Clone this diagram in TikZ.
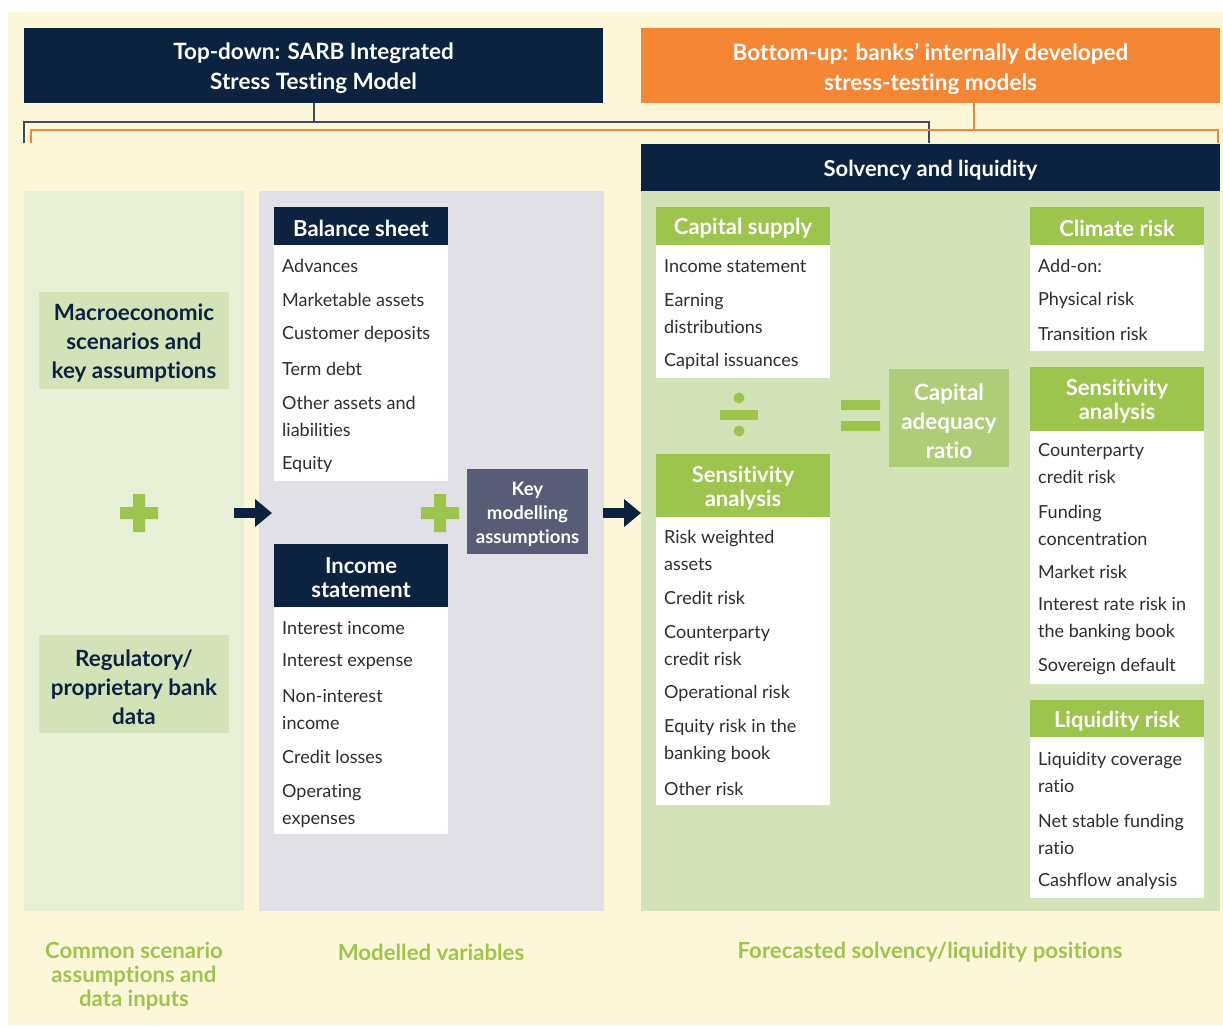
\documentclass[tikz,border=0pt]{standalone}
\usepackage{fontspec}
\setmainfont{Lato}[Ligatures=NoCommon]
\usetikzlibrary{arrows.meta}
\definecolor{cream}{HTML}{FDF7DA}
\definecolor{navy}{HTML}{0B2341}
\definecolor{orng}{HTML}{F58634}
\definecolor{leftp}{HTML}{E7EFD7}
\definecolor{midp}{HTML}{E1E0E6}
\definecolor{rightp}{HTML}{D3E3B7}
\definecolor{gbar}{HTML}{9DC54D}
\definecolor{carbox}{HTML}{AFCD78}
\definecolor{slate}{HTML}{585C74}
\definecolor{conn}{HTML}{3C4A5C}
\definecolor{itemtxt}{HTML}{2E2E2E}
\tikzset{
  x=1pt,y=-1pt,
  box/.style={inner sep=0pt,outer sep=0pt,anchor=north west},
  headtxt/.style={text=white,font=\bfseries\fontsize{22.5}{30}\selectfont,align=center,yshift=-3pt},
  soltxtst/.style={text=white,font=\bfseries\fontsize{22}{30}\selectfont,align=center,yshift=-3pt},
  subhead/.style={text=white,font=\bfseries\fontsize{22}{24}\selectfont,align=center,yshift=-2.5pt},
  item/.style={anchor=west,inner sep=0pt,text=itemtxt,font=\fontsize{18}{27}\selectfont,align=left,yshift=-1pt},
  macro/.style={text=navy,font=\bfseries\fontsize{22.4}{29}\selectfont,align=center,yshift=-3pt},
  foot/.style={text=gbar,font=\bfseries\fontsize{22.2}{24}\selectfont,align=center,yshift=-2.5pt},
  bigarrow/.style={draw=navy,line width=10pt,-{Triangle[length=17pt,width=27pt]}},
  connline/.style={draw=conn,line width=1.4pt},
  orline/.style={draw=orng,line width=1.4pt},
}
\begin{document}
\begin{tikzpicture}
\useasboundingbox (0,0) rectangle (1223,1026);
\fill[white] (0,0) rectangle (1223,1026);
\fill[cream] (8,12) rectangle (1223,1025);
% top boxes
\node[box,fill=navy,minimum width=579pt,minimum height=75pt] (top) at (24,28) {};
\node[headtxt] (toptxt) at (top.center) {Top-down: SARB Integrated\\Stress Testing Model};
\node[box,fill=orng,minimum width=579pt,minimum height=75pt] (bot) at (641,28) {};
\node[headtxt] (bottxt) at (bot.center) {Bottom-up: banks’ internally developed\\stress-testing models};
% connectors
\coordinate (c1) at (314,122);
\coordinate (cl) at (24,122);
\coordinate (cr) at (929,122);
\coordinate (cle) at (24,143);
\coordinate (cre) at (929,143);
\draw[connline] (top.south -| c1) -- (c1);
\draw[connline] (cle) -- (cl) -- (cr) -- (cre);
\coordinate (o1) at (974,130);
\coordinate (ol) at (31,130);
\coordinate (or) at (1218,130);
\coordinate (ole) at (31,143);
\coordinate (ore) at (1218,143);
\draw[orline] (bot.south -| o1) -- (o1);
\draw[orline] (ole) -- (ol) -- (or) -- (ore);
% panels
\node[box,fill=leftp,minimum width=220pt,minimum height=720pt] (lp) at (24,191) {};
\node[box,fill=midp,minimum width=345pt,minimum height=720pt] (mp) at (259,191) {};
\node[box,fill=navy,minimum width=579pt,minimum height=47pt] (sol) at (641,144) {};
\node[soltxtst] (soltxt) at (sol.center) {Solvency and liquidity};
\node[box,fill=rightp,minimum width=579pt,minimum height=720pt] (rp) at (641,191) {};
% left column
\node[box,fill=rightp,minimum width=190pt,minimum height=97pt] (macro) at (39,292) {};
\node[macro] (macrotxt) at (macro.center) {Macroeconomic\\scenarios and\\key assumptions};
\node[box,fill=rightp,minimum width=190pt,minimum height=98pt] (reg) at (39,635) {};
\node[macro] (regtxt) at (reg.center) {Regulatory/\\proprietary bank\\data};
\fill[gbar] (120,507) rectangle (158,519) (133,494) rectangle (145,532);
% arrows
\coordinate (a1s) at (234,513); \coordinate (a1e) at (272,513);
\draw[bigarrow] (a1s) -- (a1e);
\coordinate (a2s) at (603,513); \coordinate (a2e) at (641,513);
\draw[bigarrow] (a2s) -- (a2e);
% middle column
\node[box,fill=navy,minimum width=174pt,minimum height=38pt] (bsh) at (274,207) {};
\node[subhead] (bshtxt) at (bsh.center) {Balance sheet};
\node[box,fill=white,minimum width=174pt,minimum height=236pt] (bsl) at (274,245) {};
\foreach \t/\y [count=\i] in {Advances/265,Marketable assets/299,Customer deposits/333,Term debt/368,{Other assets and\\liabilities}/415.5,Equity/463}
  \node[item] (bs\i) at (282,\y) {\t};
\node[box,fill=navy,minimum width=174pt,minimum height=63pt] (ish) at (274,544) {};
\node[subhead] (ishtxt) at (ish.center) {Income\\statement};
\node[box,fill=white,minimum width=174pt,minimum height=227pt] (isl) at (274,607) {};
\foreach \t/\y [count=\i] in {Interest income/627,Interest expense/661,{Non-interest\\income}/708.5,Credit losses/756,{Operating\\expenses}/804.5}
  \node[item] (is\i) at (282,\y) {\t};
\fill[gbar] (421,507) rectangle (459,519) (434,494) rectangle (446,532);
\node[box,fill=slate,minimum width=121pt,minimum height=85pt] (key) at (467,469) {};
\node[text=white,font=\bfseries\fontsize{18.6}{24}\selectfont,align=center,yshift=-2.5pt] (keytxt) at (key.center) {Key\\modelling\\assumptions};
% right: capital supply
\node[box,fill=gbar,minimum width=174pt,minimum height=38pt] (csh) at (656,207) {};
\node[subhead] (cshtxt) at (csh.center) {Capital supply};
\node[box,fill=white,minimum width=174pt,minimum height=133pt] (csl) at (656,245) {};
\foreach \t/\y [count=\i] in {Income statement/265,{Earning\\distributions}/312.5,Capital issuances/360}
  \node[item] (cs\i) at (664,\y) {\t};
% divide
\fill[gbar] (720,410) rectangle (758,420);
\fill[gbar] (739,398) circle (5.5pt) (739,431) circle (5.5pt);
% equals
\fill[gbar] (841,400) rectangle (880,410) (841,421) rectangle (880,431);
% sensitivity (middle)
\node[box,fill=gbar,minimum width=174pt,minimum height=63pt] (s1h) at (656,454) {};
\node[subhead] (s1htxt) at (s1h.center) {Sensitivity\\analysis};
\node[box,fill=white,minimum width=174pt,minimum height=288pt] (s1l) at (656,517) {};
\foreach \t/\y [count=\i] in {{Risk weighted\\assets}/549.5,Credit risk/597,{Counterparty\\credit risk}/645,Operational risk/692,{Equity risk in the\\banking book}/740,Other risk/788}
  \node[item] (sa\i) at (664,\y) {\t};
% CAR
\node[box,fill=carbox,minimum width=120pt,minimum height=98pt] (car) at (889,369) {};
\node[text=white,font=\bfseries\fontsize{22.4}{29}\selectfont,align=center,yshift=-3pt] (cartxt) at (car.center) {Capital\\adequacy\\ratio};
% climate
\node[box,fill=gbar,minimum width=174pt,minimum height=38pt] (clh) at (1030,207) {};
\node[subhead] (clhtxt) at (clh.center) {Climate risk};
\node[box,fill=white,minimum width=174pt,minimum height=106pt] (cll) at (1030,245) {};
\foreach \t/\y [count=\i] in {Add-on:/265,Physical risk/299,Transition risk/333}
  \node[item] (cl\i) at (1038,\y) {\t};
% sensitivity right
\node[box,fill=gbar,minimum width=174pt,minimum height=64pt] (s2h) at (1030,367) {};
\node[subhead] (s2htxt) at (s2h.center) {Sensitivity\\analysis};
\node[box,fill=white,minimum width=174pt,minimum height=253pt] (s2l) at (1030,431) {};
\foreach \t/\y [count=\i] in {{Counterparty\\credit risk}/463,{Funding\\concentration}/524,Market risk/571,{Interest rate risk in\\the banking book}/618.5,Sovereign default/666}
  \node[item] (sb\i) at (1038,\y) {\t};
% liquidity
\node[box,fill=gbar,minimum width=174pt,minimum height=37pt] (lqh) at (1030,700) {};
\node[subhead] (lqhtxt) at (lqh.center) {Liquidity risk};
\node[box,fill=white,minimum width=174pt,minimum height=161pt] (lql) at (1030,737) {};
\foreach \t/\y [count=\i] in {{Liquidity coverage\\ratio}/771.5,{Net stable funding\\ratio}/833,Cashflow analysis/880}
  \node[item] (lq\i) at (1038,\y) {\t};
% footers
\node[foot] (f1) at (134,974) {Common scenario\\assumptions and\\data inputs};
\node[foot] (f2) at (431,950) {Modelled variables};
\node[foot] (f3) at (930,950) {Forecasted solvency/liquidity positions};
\end{tikzpicture}
\end{document}
